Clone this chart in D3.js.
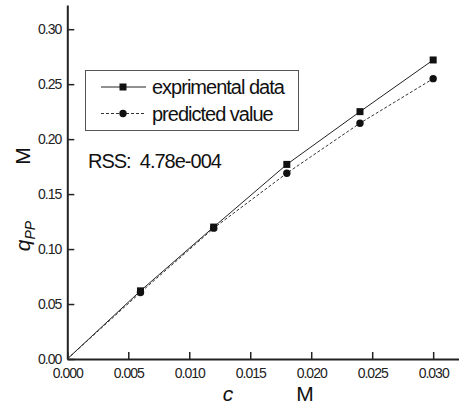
<!DOCTYPE html>
<html>
<head>
<meta charset="utf-8">
<script src="https://cdn.jsdelivr.net/npm/d3@7"></script>
<style>
	body { margin: 0; background: #fff; }
	svg { display: block; font-family: "Liberation Sans", Arial, sans-serif; }
</style>
</head>
<body>
<svg id="chart" width="459" height="407"></svg>
<script>
var concs = [0.006, 0.012, 0.018, 0.024, 0.030];
var experimental = [0.062, 0.120, 0.177, 0.225, 0.272];
var predicted = [0.0605, 0.119, 0.169, 0.2145, 0.255];
var xTicks = [0, 0.005, 0.010, 0.015, 0.020, 0.025, 0.030];
var yTicks = [0, 0.05, 0.10, 0.15, 0.20, 0.25, 0.30];
var rssText = "RSS:  4.78e-004";

var svg = d3.select("#chart");

var x = d3.scaleLinear().domain([0, 0.0322]).range([67.3, 460]);
var y = d3.scaleLinear().domain([0, 0.322]).range([359, 5]);

// lines start at the origin
var expData = [[0, 0]].concat(concs.map(function(c, i) { return [c, experimental[i]]; }));
var preData = [[0, 0]].concat(concs.map(function(c, i) { return [c, predicted[i]]; }));

var line = d3.line()
	.x(function(d) { return x(d[0]); })
	.y(function(d) { return y(d[1]); });

// axes
var xAxis = svg.append("g")
	.attr("transform", "translate(0," + y(0) + ")")
	.call(d3.axisBottom(x).tickValues(xTicks).tickSizeInner(-7).tickSizeOuter(0).tickPadding(7)
		.tickFormat(d3.format(".3f")));
var yAxis = svg.append("g")
	.attr("transform", "translate(" + x(0) + ",0)")
	.call(d3.axisLeft(y).tickValues(yTicks).tickSizeInner(-7).tickSizeOuter(0).tickPadding(6)
		.tickFormat(d3.format(".2f")));

[xAxis, yAxis].forEach(function(a) {
	a.select(".domain").attr("stroke", "#222").attr("stroke-width", 2);
	a.selectAll(".tick line").attr("stroke", "#222").attr("stroke-width", 1.5);
	a.selectAll(".tick text")
		.attr("fill", "#222")
		.style("font-size", "14px")
		.style("letter-spacing", "-1px");
});
xAxis.selectAll(".tick text").attr("dy", "0.85em");

// data lines
svg.append("path").datum(expData)
	.attr("d", line)
	.attr("fill", "none")
	.attr("stroke", "#222")
	.attr("stroke-width", 1);
svg.append("path").datum(preData)
	.attr("d", line)
	.attr("fill", "none")
	.attr("stroke", "#333")
	.attr("stroke-width", 1)
	.attr("stroke-dasharray", "3,2");

// markers
svg.selectAll(".sq").data(concs).enter().append("rect")
	.attr("class", "sq")
	.attr("x", function(d) { return x(d) - 3.5; })
	.attr("y", function(d, i) { return y(experimental[i]) - 3.5; })
	.attr("width", 7).attr("height", 7)
	.attr("fill", "#111");
svg.selectAll(".dot").data(concs).enter().append("circle")
	.attr("class", "dot")
	.attr("cx", function(d) { return x(d); })
	.attr("cy", function(d, i) { return y(predicted[i]); })
	.attr("r", 3.7)
	.attr("fill", "#111");

// legend
var legend = svg.append("g");
legend.append("rect")
	.attr("x", 85.5).attr("y", 70.5)
	.attr("width", 213).attr("height", 60)
	.attr("fill", "#fff")
	.attr("stroke", "#555")
	.attr("stroke-width", 1);
legend.append("line")
	.attr("x1", 101).attr("x2", 146).attr("y1", 87).attr("y2", 87)
	.attr("stroke", "#222");
legend.append("rect")
	.attr("x", 119.5).attr("y", 83.5).attr("width", 7).attr("height", 7)
	.attr("fill", "#111");
legend.append("line")
	.attr("x1", 101).attr("x2", 146).attr("y1", 113.5).attr("y2", 113.5)
	.attr("stroke", "#333").attr("stroke-dasharray", "3,2");
legend.append("circle")
	.attr("cx", 123).attr("cy", 113.5).attr("r", 3.7)
	.attr("fill", "#111");
legend.append("text")
	.attr("x", 152).attr("y", 94)
	.style("font-size", "20px").style("letter-spacing", "-1px").attr("fill", "#111")
	.text("exprimental data");
legend.append("text")
	.attr("x", 152).attr("y", 120.5)
	.style("font-size", "20px").style("letter-spacing", "-1px").attr("fill", "#111")
	.text("predicted value");

// RSS note
svg.append("text")
	.attr("x", 88).attr("y", 168)
	.attr("xml:space", "preserve")
	.style("white-space", "pre")
	.style("font-size", "20px").style("letter-spacing", "-1px").attr("fill", "#111")
	.text(rssText);

// axis titles
svg.append("text")
	.attr("x", 228).attr("y", 401)
	.attr("text-anchor", "middle")
	.style("font-size", "21px").style("font-style", "italic").attr("fill", "#111")
	.text("c");
svg.append("text")
	.attr("x", 305).attr("y", 401)
	.attr("text-anchor", "middle")
	.style("font-size", "21px").attr("fill", "#111")
	.text("M");

var yTitle = svg.append("g").attr("transform", "translate(30,0) rotate(-90)");
var qText = yTitle.append("text")
	.attr("x", -236).attr("y", 0)
	.attr("text-anchor", "middle")
	.style("font-size", "21px").attr("fill", "#111");
qText.append("tspan").style("font-style", "italic").text("q");
qText.append("tspan").attr("dy", 5).style("font-size", "14px").style("font-style", "italic").text("PP");
yTitle.append("text")
	.attr("x", -156).attr("y", 0)
	.attr("text-anchor", "middle")
	.style("font-size", "21px").attr("fill", "#111")
	.text("M");
</script>
</body>
</html>
